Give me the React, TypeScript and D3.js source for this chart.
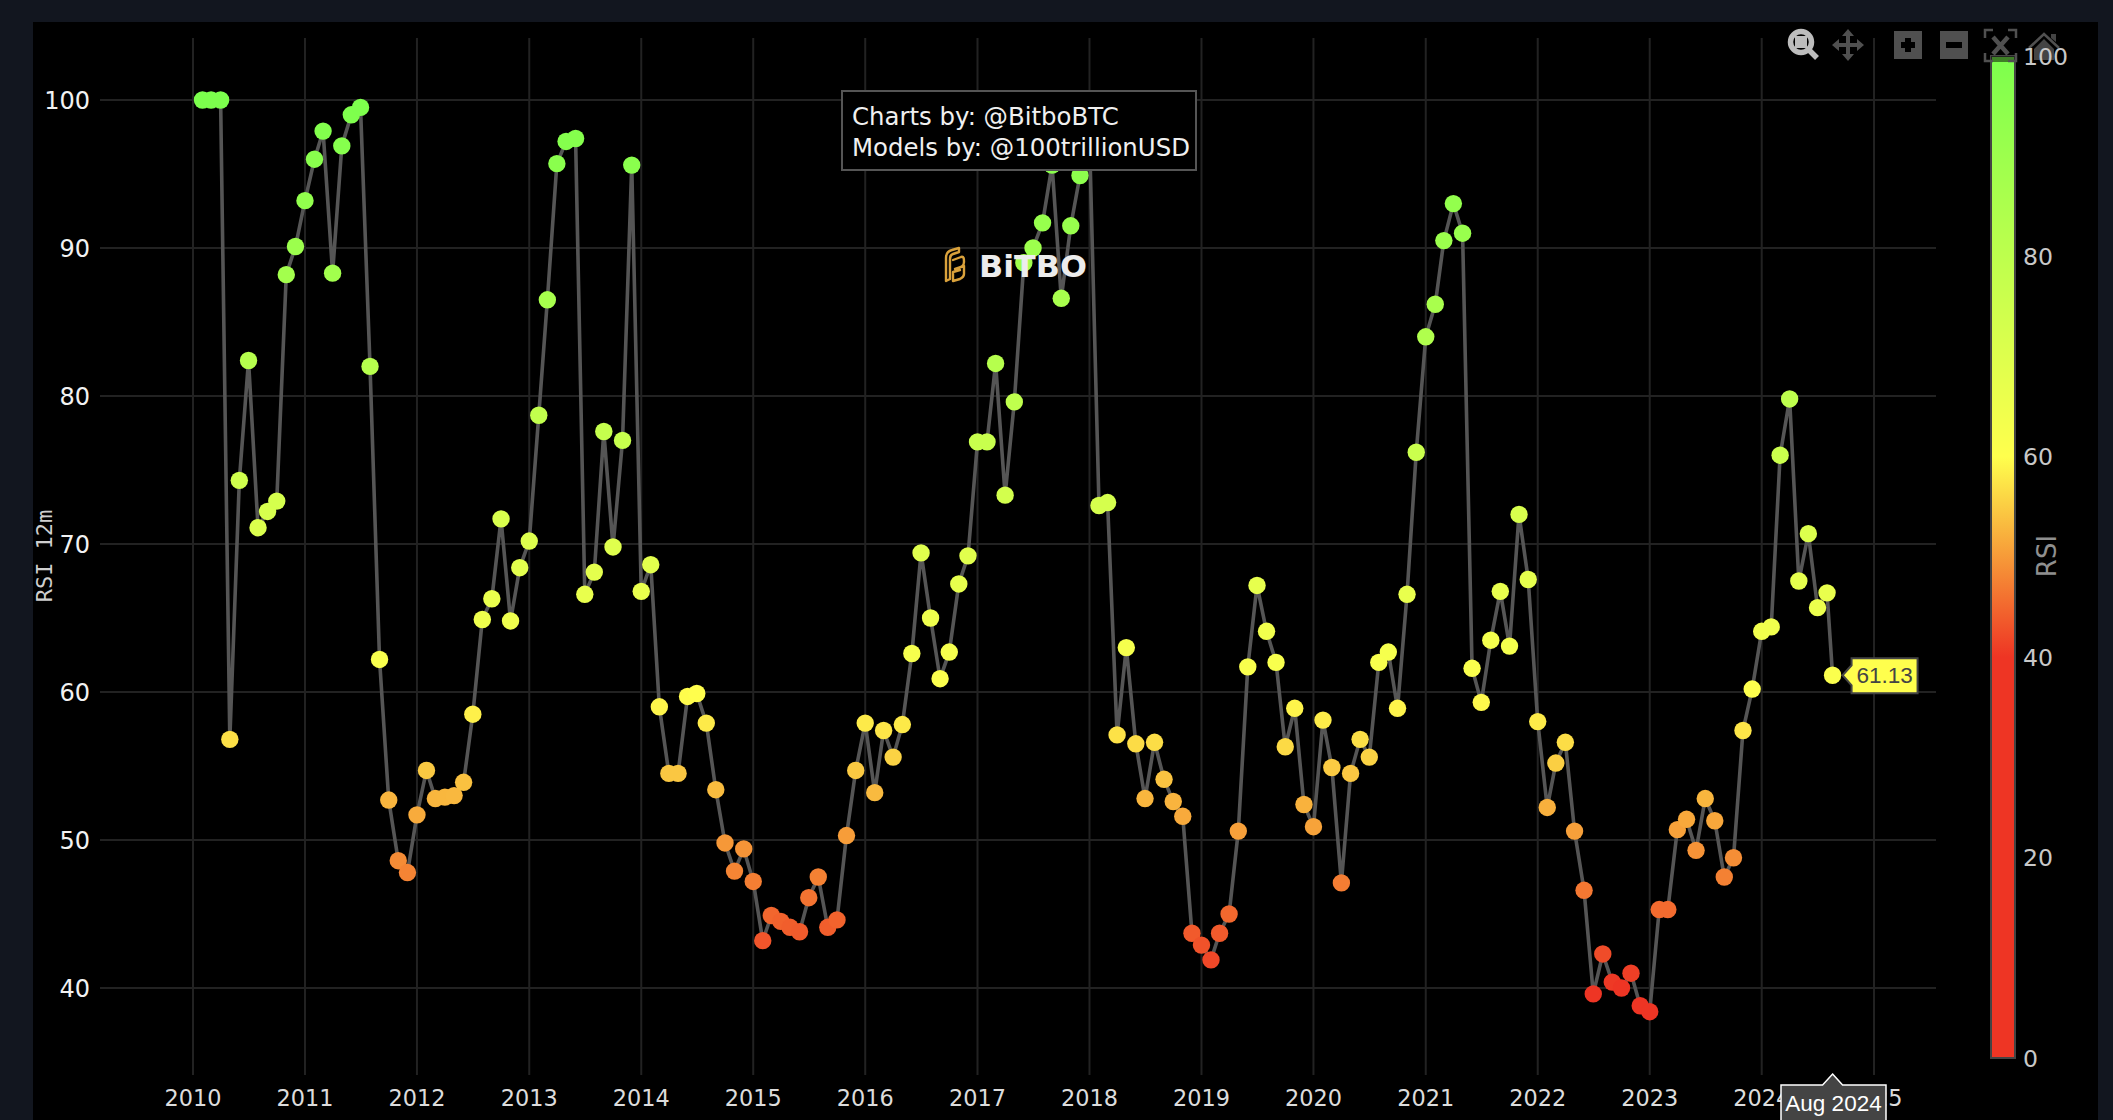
import React from "react";
import * as d3 from "d3";

const rsiValues: number[] = [
  100, 100, 100, 56.8, 74.3, 82.4, 71.1, 72.2, 72.9, 88.2, 90.1, 93.2, 96, 97.9, 88.3, 96.9, 99, 99.5, 82, 62.2,
  52.7, 48.6, 47.8, 51.7, 54.7, 52.8, 52.9, 53, 53.9, 58.5, 64.9, 66.3, 71.7, 64.8, 68.4, 70.2, 78.7, 86.5, 95.7, 97.2,
  97.4, 66.6, 68.1, 77.6, 69.8, 77, 95.6, 66.8, 68.6, 59, 54.5, 54.5, 59.7, 59.9, 57.9, 53.4, 49.8, 47.9, 49.4, 47.2,
  43.2, 44.9, 44.5, 44.1, 43.8, 46.1, 47.5, 44.1, 44.6, 50.3, 54.7, 57.9, 53.2, 57.4, 55.6, 57.8, 62.6, 69.4, 65, 60.9,
  62.7, 67.3, 69.2, 76.9, 76.9, 82.2, 73.3, 79.6, 89, 90, 91.7, 95.6, 86.6, 91.5, 94.9, 97.5, 72.6, 72.8, 57.1, 63,
  56.5, 52.8, 56.6, 54.1, 52.6, 51.6, 43.7, 42.9, 41.9, 43.7, 45, 50.6, 61.7, 67.2, 64.1, 62, 56.3, 58.9, 52.4, 50.9,
  58.1, 54.9, 47.1, 54.5, 56.8, 55.6, 62, 62.7, 58.9, 66.6, 76.2, 84, 86.2, 90.5, 93, 91, 61.6, 59.3, 63.5, 66.8,
  63.1, 72, 67.6, 58, 52.2, 55.2, 56.6, 50.6, 46.6, 39.6, 42.3, 40.4, 40, 41, 38.8, 38.4, 45.3, 45.3, 50.7, 51.4,
  49.3, 52.8, 51.3, 47.5, 48.8, 57.4, 60.2, 64.1, 64.4, 76, 79.8, 67.5, 70.7, 65.7, 66.7, 61.13,
];
const monthDates: Date[] = d3.utcMonth.range(new Date(Date.UTC(2010, 1, 1)), new Date(Date.UTC(2024, 8, 1)));
const lastDate = new Date(Date.UTC(2024, 7, 19));
const dates: Date[] = [...monthDates, lastDate];

const xTickYears = d3.range(2010, 2026);
const yTicks = [40, 50, 60, 70, 80, 90, 100];
const colorbarTicks = [0, 20, 40, 60, 80, 100];
const colorStops: [number, string][] = [
  [0, "#ee3524"],
  [40, "#ee3524"],
  [60, "#ffff4d"],
  [100, "#7cff4d"],
];
const annotationLines = ["Charts by: @BitboBTC", "Models by: @100trillionUSD"];

const sans = "'DejaVu Sans', sans-serif";
const arial = "'Liberation Sans', Arial, sans-serif";
const W = 2113;
const H = 1120;

export default function App() {
  const x = d3.scaleUtc().domain([new Date(Date.UTC(2010, 0, 1)), new Date(Date.UTC(2025, 0, 1))]).range([193, 1874]);
  const y = d3.scaleLinear().domain([40, 100]).range([988, 100]);
  const cbY = d3.scaleLinear().domain([0, 100]).range([1058, 56]);
  const color = d3
    .scaleLinear<string>()
    .domain(colorStops.map((s) => s[0]))
    .range(colorStops.map((s) => s[1]))
    .interpolate(d3.interpolateRgb);
  const line = d3
    .line<number>()
    .x((_, i) => x(dates[i]))
    .y((d) => y(d));
  const lastX = x(lastDate);
  const lastY = y(rsiValues[rsiValues.length - 1]);
  const iconFill = "#505050";

  return (
    <svg width={W} height={H} viewBox={`0 0 ${W} ${H}`} style={{ position: "fixed", left: 0, top: 0, display: "block" }}>
      <defs>
        <linearGradient id="cb" x1="0" x2="0" y1="1" y2="0">
          {colorStops.map(([v, c]) => (
            <stop key={v} offset={v / 100} stopColor={c} />
          ))}
        </linearGradient>
      </defs>
      <rect width={W} height={H} fill="#12161f" />
      <rect x={33} y={22} width={2065} height={H - 22} fill="#000" />

      {xTickYears.map((yr) => {
        const px = x(new Date(Date.UTC(yr, 0, 1)));
        return <line key={yr} x1={px} x2={px} y1={38} y2={1075} stroke="#222" strokeWidth={2} />;
      })}
      {yTicks.map((t) => (
        <line key={t} x1={100} x2={1936} y1={y(t)} y2={y(t)} stroke="#222" strokeWidth={2} />
      ))}

      {xTickYears.map((yr) => (
        <text key={yr} x={x(new Date(Date.UTC(yr, 0, 1)))} y={1106} textAnchor="middle" fontFamily={sans} fontSize={22.4} fill="#dcdcdc">
          {yr}
        </text>
      ))}
      {yTicks.map((t) => (
        <text key={t} x={90} y={y(t) + 9} textAnchor="end" fontFamily={sans} fontSize={24} fill="#f2f2f2">
          {t}
        </text>
      ))}
      <text
        transform="translate(52,556) rotate(-90)"
        textAnchor="middle"
        fontFamily="'DejaVu Sans Mono', monospace"
        fontSize={22}
        fill="#cfcfcf"
      >
        RSI 12m
      </text>

      <path d={line(rsiValues) ?? ""} fill="none" stroke="#555" strokeWidth={3.6} strokeLinejoin="round" />
      {rsiValues.map((v, i) => (
        <circle key={i} cx={x(dates[i])} cy={y(v)} r={8.7} fill={color(v)} />
      ))}

      {/* annotation */}
      <rect x={842} y={91} width={354} height={79} fill="#000" stroke="#555" strokeWidth={2} />
      {annotationLines.map((l, i) => (
        <text key={l} x={852} y={125 + i * 31} fontFamily={sans} fontSize={24.4} fill="#f0f0f0">
          {l}
        </text>
      ))}

      {/* logo */}
      <g fill="none" stroke="#d9a13b" strokeWidth={2.4} strokeLinejoin="round" strokeLinecap="round">
        <path d="M946 258 C946 253 948 251 952 250 L959 248 L959 252 L953 254 C950 255 950 257 950 260 L950 279 L946 281 Z" />
        <path d="M953 260 L961 257 C964 256 964 259 964 262 C964 266 962 267 955 269 L964 266 L964 274 C964 277 962 278 960 279 L953 281 L953 272 L960 270" />
      </g>
      <text x={979} y={277} fontFamily={sans} fontWeight="bold" fontSize={30} fill="#ececec" textLength={108} lengthAdjust="spacingAndGlyphs">
        BiTBO
      </text>

      {/* home button sits beneath the colorbar's top label */}
      <path fill="none" stroke={iconFill} strokeWidth={2.5} d="M2029 48 L2044 34 L2059 48" />
      <path fill="#444" d="M2034 49 L2044 39 L2054 49 V60 H2034 Z M2051 34 H2056 V42 L2051 38 Z" />

      {/* colorbar */}
      <rect x={1991} y={cbY(100)} width={24} height={cbY(0) - cbY(100)} fill="url(#cb)" stroke="#444" strokeWidth={2} />
      <rect x={1991} y={56} width={24} height={6} fill="#000" opacity={0.5} />
      {colorbarTicks.map((t) => (
        <text key={t} x={2023} y={cbY(t) + 8.5} fontFamily={sans} fontSize={23.6} fill="#c8c8c8">
          {t}
        </text>
      ))}
      <text transform="translate(2056,556) rotate(-90)" textAnchor="middle" fontFamily={sans} fontSize={26} fill="#8f8f8f">
        RSI
      </text>

      {/* modebar */}
      <g>
        <circle cx={1801} cy={42} r={10.5} fill="none" stroke="#bdbdbd" strokeWidth={5.5} />
        <rect x={1795} y={36} width={12} height={12} fill="#bdbdbd" />
        <line x1={1809} y1={50} x2={1817} y2={58} stroke="#bdbdbd" strokeWidth={5.5} />
        <g fill={iconFill}>
          <path d="M1848 29 L1854 36 L1850 36 L1850 43 L1857 43 L1857 39 L1864 45 L1857 51 L1857 47 L1850 47 L1850 54 L1854 54 L1848 61 L1842 54 L1846 54 L1846 47 L1839 47 L1839 51 L1832 45 L1839 39 L1839 43 L1846 43 L1846 36 L1842 36 Z" />
          <path fillRule="evenodd" d="M1894 31 H1922 V59 H1894 Z M1905 38 V42 H1901 V48 H1905 V52 H1911 V48 H1915 V42 H1911 V38 Z" />
          <path fillRule="evenodd" d="M1940 31 H1968 V59 H1940 Z M1946 42 V48 H1962 V42 Z" />
        </g>
        <g fill="none" stroke={iconFill} strokeWidth={2.5}>
          <path d="M1985 38 V30 H1993 M2008 30 H2016 V38 M1985 53 V61 H1993 M2008 61 H2016 V53" />
          <path strokeWidth={4.5} d="M1993 37 L2008 54 M2008 37 L1993 54" />
        </g>
      </g>

      {/* hover labels */}
      <path
        d={`M${lastX + 10} ${lastY} L${lastX + 19} ${lastY - 10} V${lastY - 17} H${lastX + 85} V${lastY + 18} H${lastX + 19} V${lastY + 10} Z`}
        fill="#ffff4d"
        stroke="#444"
        strokeWidth={2}
      />
      <text x={lastX + 24} y={lastY + 8} fontFamily={arial} fontSize={22.5} fill="#444">
        {rsiValues[rsiValues.length - 1].toFixed(2)}
      </text>
      <path
        d={`M${lastX} 1074 L${lastX + 10} 1085 H1886 V1130 H1781 V1085 H${lastX - 10} Z`}
        fill="#444"
        stroke="#fff"
        strokeWidth={1.5}
      />
      <text x={(1781 + 1886) / 2} y={1111} textAnchor="middle" fontFamily={arial} fontSize={22.5} fill="#fff">
        {d3.utcFormat("%b %Y")(lastDate)}
      </text>
    </svg>
  );
}
